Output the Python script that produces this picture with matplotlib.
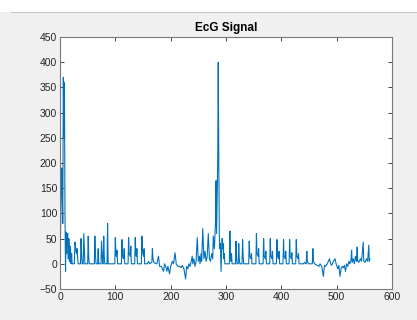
import matplotlib

matplotlib.use("Agg")
import matplotlib.pyplot as plt
from matplotlib.patches import Rectangle
from matplotlib.lines import Line2D

plt.rcParams["font.family"] = ["Liberation Sans", "DejaVu Sans"]

# ECG trace, vertices (sample index, amplitude)
ecg_x = [
    0, 1, 2, 3, 4, 5, 6, 7, 8, 9, 10, 11, 12, 13, 14, 15, 16, 17, 18, 19, 20, 21, 22,
    26, 27, 28, 29, 30, 31, 32, 33,
    37, 38, 39, 40, 42, 43, 44, 45, 50, 51, 52, 53,
    62, 63, 64, 65, 68, 69, 70, 74, 75, 76, 77, 78, 79, 80, 81, 85, 86, 87,
    99, 100, 101, 102, 103, 104,
    111, 112, 113, 115, 116, 117,
    123, 124, 125, 127, 128, 129,
    135, 136, 137, 138, 139, 140,
    147, 148, 149, 151, 152, 153,
    158, 160, 162, 166, 167, 168, 170, 175, 178, 180, 183, 185, 187, 189, 191, 193, 195,
    198, 200, 203, 205, 208, 210, 213, 216, 219, 221, 224, 227, 229, 231, 233, 235, 237,
    239, 240, 242, 244, 246, 248, 250, 252, 253, 255, 256, 258, 260, 262, 264, 266, 268,
    270, 272, 274, 276, 277, 279, 281, 282, 283, 285, 286, 287, 288, 289, 290, 291, 292,
    293, 294, 295, 296, 297, 298,
    306, 307, 308, 309, 310, 311,
    317, 318, 319, 320, 322, 323, 324, 325,
    329, 330, 331, 332,
    341, 342, 343, 345, 346, 347,
    354, 355, 356, 358, 359, 360,
    367, 368, 369, 371, 372, 373,
    379, 380, 381, 383, 384, 385,
    391, 392, 393, 395, 396, 397,
    403, 404, 405, 407, 408, 409,
    414, 415, 416, 418, 419, 420,
    426, 427, 428, 430, 431, 432,
    440, 442, 444, 445, 446, 447, 449, 456, 457, 458, 460, 465, 468, 470, 473, 476, 478,
    480, 483, 487, 489, 491, 494, 497, 499, 502, 504, 506, 508, 510, 512, 514, 516, 518,
    520, 522, 524, 526, 527, 528, 530, 532, 534, 536, 537, 538, 540, 543, 545, 548, 549,
    551, 554, 556, 558, 559, 560,
]
ecg_y = [
    75, 60, 120, 190, 150, 80, 370, 250, 360, 100, -15, 63, 20, 55, 60, 10, 50, 5, 35, 30, 0, 20, 0,
    0, 43, 35, 25, 20, 30, 10, 0,
    0, 50, 20, 0, 0, 60, 30, 0, 0, 55, 10, 0,
    0, 55, 20, 0, 0, 30, 0, 0, 45, 20, 0, 0, 55, 15, 0, 0, 80, 0,
    0, 52, 20, 15, 27, 0,
    0, 48, 15, 10, 30, 0,
    0, 52, 20, 15, 35, 0,
    0, 52, 20, 15, 30, 0,
    0, 55, 25, 15, 30, 0,
    0, 5, 0, 3, 30, 10, 2, 0, 15, -5, -5, -10, -15, 0, -5, -15, -5,
    -20, -5, 5, 0, 22, 0, -5, -5, -8, -3, -10, -30, -5, -10, 0, -5, 5,
    15, 0, 10, -5, 5, 52, 5, 15, 0, 20, 5, 70, 10, 25, 5, 15, 60,
    10, 5, 20, 10, 55, 30, 80, 165, 60, 200, 400, 200, 50, 30, 40, -15, 20,
    50, 30, 40, 10, 20, 0,
    0, 65, 15, 5, 20, 0,
    0, 45, 10, 0, 0, 40, 10, 0,
    0, 48, 15, 0,
    0, 45, 15, 10, 20, 0,
    0, 60, 20, 15, 30, 0,
    0, 50, 15, 10, 25, 0,
    0, 50, 15, 10, 25, 0,
    0, 48, 15, 10, 25, 0,
    0, 48, 15, 10, 25, 0,
    0, 48, 15, 10, 22, 0,
    0, 48, 15, 10, 20, 0,
    0, 3, 0, 0, 25, 5, 0, 0, 30, 5, 0, -3, -5, 0, -5, -25, -3,
    -5, 0, 10, 0, -3, 5, 10, 0, -10, -3, -25, -10, -5, -8, -3, -15, 0,
    -5, 5, 0, 8, 27, 3, 10, 0, 15, 5, 33, 5, 3, 10, 5, 43, 5,
    3, 10, 5, 37, 5, 10,
]

x_ticks = [0, 100, 200, 300, 400, 500, 600]
y_ticks = [-50, 0, 50, 100, 150, 200, 250, 300, 350, 400, 450]

fig = plt.figure(figsize=(4.17, 3.2), dpi=100, facecolor="#f0f0f0")
# white strip + rule along the top, like the MATLAB figure window
fig.patches.append(Rectangle((0, 308 / 320), 1, 12 / 320, transform=fig.transFigure,
                             facecolor="white", edgecolor="none", zorder=0))
fig.lines.append(Line2D([11 / 417, 1], [308 / 320, 308 / 320], transform=fig.transFigure,
                        color="#c8c8c8", linewidth=0.8))

ax = fig.add_axes([60 / 417, 31 / 320, 332 / 417, 252 / 320])
ax.plot(ecg_x, ecg_y, color="#0072BD", linewidth=0.8)

ax.set_xlim(0, 600)
ax.set_ylim(-50, 450)
ax.set_xticks(x_ticks)
ax.set_yticks(y_ticks)
ax.tick_params(direction="in", length=3, width=0.6, colors="#262626",
               labelsize=7.5, top=True, right=True, pad=2)
for s in ax.spines.values():
    s.set_color("#7a7a7a")
    s.set_linewidth(0.8)
ax.set_title("EcG Signal", fontsize=8.5, fontweight="bold", pad=4)

fig.savefig("out.png", dpi=100, facecolor=fig.get_facecolor())
